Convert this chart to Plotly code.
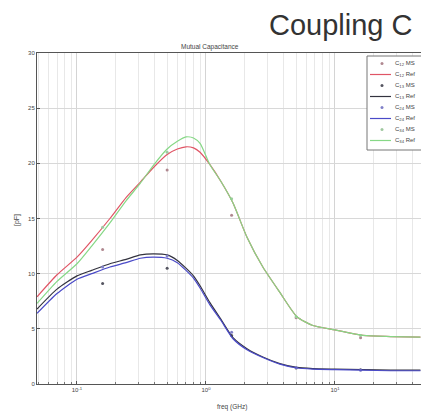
import plotly.graph_objects as go

# Frequency grid for the reference (extracted) curves, GHz
freq_ref = [0.049, 0.07, 0.1, 0.13, 0.18, 0.24, 0.31, 0.39, 0.5, 0.6, 0.7, 0.8,
            0.9, 1.07, 1.3, 1.62, 2.08, 2.76, 3.74, 5.07, 6.74, 10, 16.5, 27, 46]

# Mutual capacitance, pF
c12_ref = [7.9, 9.9, 11.5, 13.0, 15.0, 16.9, 18.3, 19.6, 20.8, 21.3, 21.5, 21.4,
           21.0, 19.9, 18.4, 16.4, 13.3, 10.6, 8.3, 6.1, 5.3, 4.9, 4.4, 4.3, 4.25]
c34_ref = [7.3, 9.3, 10.9, 12.5, 14.6, 16.6, 18.2, 19.8, 21.3, 22.0, 22.4, 22.3,
           21.8, 19.9, 18.4, 16.4, 13.3, 10.6, 8.3, 6.1, 5.3, 4.9, 4.4, 4.3, 4.25]
c13_ref = [6.8, 8.6, 9.8, 10.3, 10.9, 11.3, 11.7, 11.8, 11.7, 11.2, 10.5, 9.8,
           8.9, 7.4, 5.9, 4.2, 3.2, 2.45, 1.85, 1.5, 1.4, 1.35, 1.3, 1.25, 1.25]
c24_ref = [6.4, 8.2, 9.5, 10.0, 10.6, 11.0, 11.4, 11.5, 11.4, 11.0, 10.3, 9.6,
           8.7, 7.2, 5.8, 4.1, 3.1, 2.4, 1.8, 1.45, 1.35, 1.3, 1.25, 1.2, 1.2]

# Measured (MS) points
freq_ms = [0.158, 0.5, 1.58, 5.0, 15.8]
c12_ms = [12.2, 19.4, 15.3, 6.0, 4.2]
c34_ms = [14.2, 21.0, 16.8, 6.1, 4.4]
c13_ms = [9.1, 10.5, 4.4, 1.45, 1.3]
c24_ms = [10.6, 11.6, 4.7, 1.5, 1.25]

x_tickvals = [0.1, 1, 10]
x_ticktext = ["10<sup>-1</sup>", "10<sup>0</sup>", "10<sup>1</sup>"]
x_minorvals = [0.05, 0.06, 0.07, 0.08, 0.09,
               0.2, 0.3, 0.4, 0.5, 0.6, 0.7, 0.8, 0.9,
               2, 3, 4, 5, 6, 7, 8, 9, 20, 30, 40]

RED, BLACK, BLUE, GREEN = "#e05565", "#33333f", "#4a4ac8", "#86d886"

series = [
    ("C<sub>12</sub> MS", "C<sub>12</sub> Ref", c12_ms, c12_ref, RED, "#b08890"),
    ("C<sub>13</sub> MS", "C<sub>13</sub> Ref", c13_ms, c13_ref, BLACK, "#555560"),
    ("C<sub>24</sub> MS", "C<sub>24</sub> Ref", c24_ms, c24_ref, BLUE, "#8080c8"),
    ("C<sub>34</sub> MS", "C<sub>34</sub> Ref", c34_ms, c34_ref, GREEN, "#a0c8a0"),
]

fig = go.Figure()
for ms_name, ref_name, ms_vals, ref_vals, line_col, mk_col in series:
    fig.add_trace(go.Scatter(
        x=freq_ms, y=ms_vals, mode="markers", name=ms_name, showlegend=False,
        marker=dict(symbol="circle", size=3, color=mk_col)))
    fig.add_trace(go.Scatter(
        x=freq_ref, y=ref_vals, mode="lines", name=ref_name, showlegend=False,
        line=dict(color=line_col, width=1.2, shape="spline", smoothing=0.6)))

L, T, W, H = 37, 53, 421, 415
BOTTOM = 384
pw, ph = W - L, BOTTOM - T

def px(x):
    return (x - L) / pw

def py(y):
    return (BOTTOM - y) / ph

FONT = "Liberation Sans"
axis_common = dict(
    showline=True, linecolor="#555", linewidth=1, mirror=True,
    ticks="inside", ticklen=3, tickcolor="#555",
    tickfont=dict(size=6, color="#444", family=FONT),
    zeroline=False,
)

fig.update_xaxes(
    type="log", range=[-1.31, 1.667],
    tickvals=x_tickvals, ticktext=x_ticktext,
    showgrid=True, gridcolor="#d4d4d4", gridwidth=1,
    minor=dict(tickvals=x_minorvals, ticks="inside", ticklen=2, tickcolor="#777",
               showgrid=True, gridcolor="#e8e8e8", gridwidth=1),
    **axis_common)
fig.update_yaxes(
    range=[0, 30], dtick=5,
    showgrid=True, gridcolor="#d8d8d8", gridwidth=1,
    **axis_common)

annots = [
    dict(text="Coupling C", x=px(267), y=py(25), xanchor="left", yanchor="middle",
         font=dict(size=29, color="#333", family=FONT)),
    dict(text="Mutual Capacitance", x=px(210), y=py(47), xanchor="center", yanchor="middle",
         font=dict(size=6.5, color="#444", family=FONT)),
    dict(text="[pF]", x=px(17), y=py(220), xanchor="center", yanchor="middle",
         textangle=-90, font=dict(size=7, color="#444", family=FONT)),
    dict(text="freq (GHz)", x=px(232), y=py(407), xanchor="center", yanchor="middle",
         font=dict(size=6.5, color="#444", family=FONT)),
]
for a in annots:
    fig.add_annotation(xref="paper", yref="paper", showarrow=False, **a)

# Legend box drawn by hand so the entries sit as tightly as in a MATLAB legend
LEG_X0, LEG_Y0, LEG_Y1 = 367, 56, 150
fig.add_shape(type="rect", xref="paper", yref="paper",
              x0=px(LEG_X0), x1=px(440), y0=py(LEG_Y1), y1=py(LEG_Y0),
              line=dict(color="#777", width=1), fillcolor="white", layer="above")
entry_y = 63.5
step = 11.0
for ms_name, ref_name, _, _, line_col, mk_col in series:
    # MS entry: marker sample
    fig.add_shape(type="circle", xref="paper", yref="paper",
                  x0=px(380.5), x1=px(383.5), y0=py(entry_y + 1.5), y1=py(entry_y - 1.5),
                  line=dict(width=0), fillcolor=mk_col, layer="above")
    fig.add_annotation(xref="paper", yref="paper", showarrow=False,
                       text=ms_name, x=px(393), y=py(entry_y), xanchor="left", yanchor="middle",
                       font=dict(size=6, color="#444", family=FONT))
    entry_y += step
    # Ref entry: line sample
    fig.add_shape(type="line", xref="paper", yref="paper",
                  x0=px(370), x1=px(391), y0=py(entry_y), y1=py(entry_y),
                  line=dict(color=line_col, width=1.2), layer="above")
    fig.add_annotation(xref="paper", yref="paper", showarrow=False,
                       text=ref_name, x=px(393), y=py(entry_y), xanchor="left", yanchor="middle",
                       font=dict(size=6, color="#444", family=FONT))
    entry_y += step

fig.update_layout(
    width=W, height=H,
    margin=dict(l=L, r=0, t=T, b=H - BOTTOM, pad=0),
    paper_bgcolor="white", plot_bgcolor="white",
    showlegend=False,
)

fig.write_html("out.html")
